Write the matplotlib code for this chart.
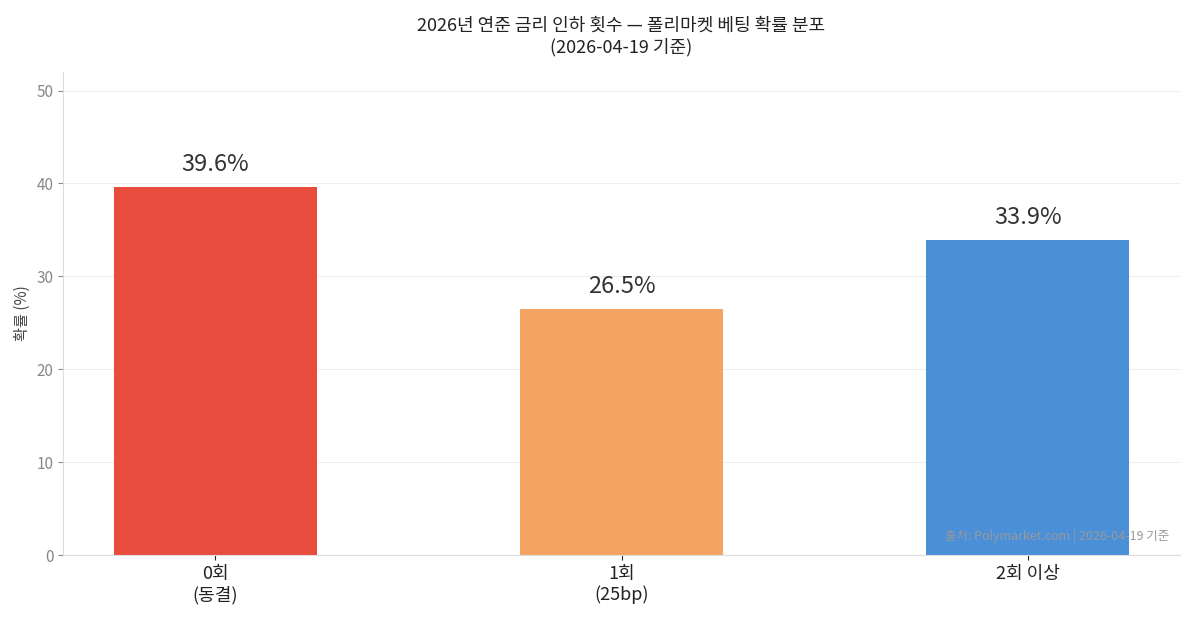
import matplotlib
matplotlib.use("Agg")
import matplotlib.pyplot as plt

plt.rcParams['font.family'] = ['Noto Sans CJK KR', 'DejaVu Sans']

categories = ["0회\n(동결)", "1회\n(25bp)", "2회 이상"]
values = [39.6, 26.5, 33.9]
colors = ["#e84c3d", "#f4a460", "#4a90d9"]

fig = plt.figure(figsize=(11.89, 6.2), dpi=100)
ax = fig.add_axes([63/1189, 65/620, (1180-63)/1189, (555-72)/620])
x = range(len(values))
bars = ax.bar(x, values, width=0.5, color=colors, zorder=2)
for xi, v in zip(x, values):
    ax.text(xi, v + 1.2, f"{v}%", ha='center', va='bottom', fontsize=17, color='#333333')
ax.set_xticks(list(x))
ax.set_xticklabels(categories, fontsize=13, color='#222222')
ax.set_xlim(-0.375, 2.375)
ax.set_ylim(0, 52)
ax.set_yticks([0, 10, 20, 30, 40, 50])
ax.tick_params(axis='y', colors='#888888', labelsize=11)
ax.tick_params(axis='x', colors='#222222')
ax.set_ylabel("확률 (%)", fontsize=11, color='#444444')
ax.grid(axis='y', color='#eeeeee', linewidth=0.8, zorder=0)
for s in ['top', 'right']:
    ax.spines[s].set_visible(False)
for s in ['left', 'bottom']:
    ax.spines[s].set_color('#dddddd')
ax.set_title("2026년 연준 금리 인하 횟수 — 폴리마켓 베팅 확률 분포\n(2026-04-19 기준)",
             fontsize=13, color='#222222', pad=14)
ax.text(0.99, 0.025, "출처: Polymarket.com | 2026-04-19 기준", transform=ax.transAxes,
        ha='right', va='bottom', fontsize=9, color='#999999')
fig.savefig("out.png", dpi=100)
